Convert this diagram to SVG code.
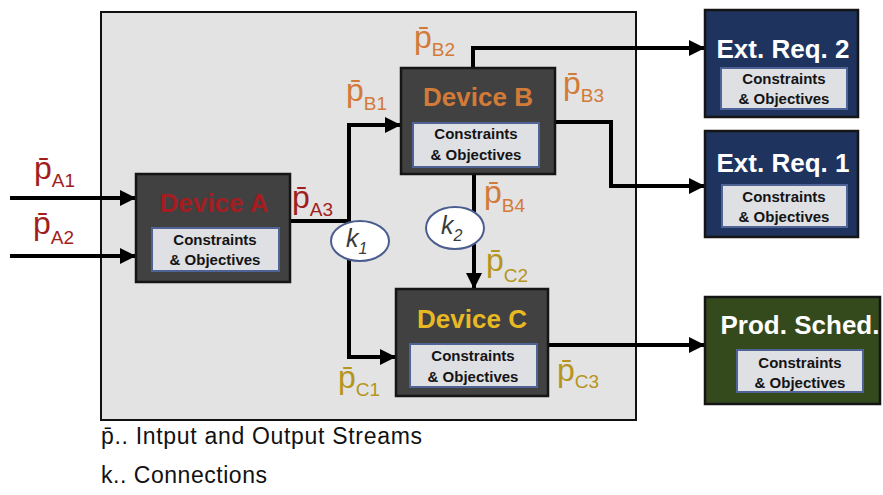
<svg xmlns="http://www.w3.org/2000/svg" width="883" height="495" viewBox="0 0 883 495">
<style>
.dev{fill:#414141;stroke:#151515;stroke-width:2.5}
.ext{fill:#1f335f;stroke:#151515;stroke-width:2.5}
.prod{fill:#354a1c;stroke:#151515;stroke-width:2.5}
.inner{fill:#dfe0e4;stroke:#4f6396;stroke-width:2}
.ttl{font-family:"Liberation Sans",Arial,sans-serif;font-weight:bold;font-size:26px;text-anchor:middle}
.co{font-family:"Liberation Sans",Arial,sans-serif;font-weight:bold;font-size:15px;fill:#141414;text-anchor:middle}
.lbl{font-family:"Liberation Sans","DejaVu Sans",sans-serif;font-size:32px}
.sub{font-size:19px}
.ra{fill:#a11d20}
.ob{fill:#d27a38}
.yc{fill:#b5951d}
.wire{fill:none;stroke:#000;stroke-width:4}
.kel{fill:#fff;stroke:#4a5d8f;stroke-width:2}
.kt{font-family:"Liberation Sans",Arial,sans-serif;font-style:italic;font-size:25px;fill:#3a3a3a}
.leg{font-family:"Liberation Sans",Arial,sans-serif;font-size:23px;fill:#111}
</style>
<defs>
<marker id="ah" markerUnits="userSpaceOnUse" markerWidth="16" markerHeight="16" viewBox="0 0 16 16" refX="15" refY="8" orient="auto">
<path d="M0,0 L16,8 L0,16 Z" fill="#000"/>
</marker>
</defs>

<rect id="frame" x="101" y="12" width="535" height="408" fill="#e3e3e3" stroke="#111" stroke-width="2"/>

<g id="connectors">
<path class="wire" d="M10,198 H135" marker-end="url(#ah)"/>
<path class="wire" d="M10,256 H135" marker-end="url(#ah)"/>
<path class="wire" d="M290,221 H349 V125 H400" marker-end="url(#ah)"/>
<path class="wire" d="M349,221 V357 H395" marker-end="url(#ah)"/>
<path class="wire" d="M473,68 V48 H704" marker-end="url(#ah)"/>
<path class="wire" d="M555,122 H611 V186 H704" marker-end="url(#ah)"/>
<path class="wire" d="M474,174 V288" marker-end="url(#ah)"/>
<path class="wire" d="M548,345 H704" marker-end="url(#ah)"/>
</g>

<g id="k1">
<ellipse class="kel" cx="360" cy="241" rx="29" ry="20"/>
<text class="kt" x="346" y="247">k<tspan font-size="16" dy="7">1</tspan></text>
</g>
<g id="k2">
<ellipse class="kel" cx="455" cy="228" rx="29" ry="21"/>
<text class="kt" x="441" y="234">k<tspan font-size="16" dy="7">2</tspan></text>
</g>

<g id="deviceA">
<rect class="dev" x="136" y="174" width="154" height="108"/>
<text class="ttl" x="214" y="212" fill="#a31d21">Device A</text>
<rect class="inner" x="152" y="228" width="127" height="43"/>
<text class="co" x="215" y="245">Constraints</text>
<text class="co" x="215" y="265">&amp; Objectives</text>
</g>

<g id="deviceB">
<rect class="dev" x="401" y="68" width="154" height="106"/>
<text class="ttl" x="478" y="106" fill="#d27a38">Device B</text>
<rect class="inner" x="413" y="123" width="126" height="44"/>
<text class="co" x="476" y="139">Constraints</text>
<text class="co" x="476" y="160">&amp; Objectives</text>
</g>

<g id="deviceC">
<rect class="dev" x="396" y="289" width="152" height="107"/>
<text class="ttl" x="472" y="328" fill="#e8b923">Device C</text>
<rect class="inner" x="410" y="344" width="127" height="43"/>
<text class="co" x="473" y="361">Constraints</text>
<text class="co" x="473" y="382">&amp; Objectives</text>
</g>

<g id="extReq2">
<rect class="ext" x="705" y="10" width="153" height="107"/>
<text class="ttl" x="783" y="58" fill="#fff" font-size="27">Ext. Req. 2</text>
<rect class="inner" x="721" y="68" width="126" height="41"/>
<text class="co" x="784" y="84">Constraints</text>
<text class="co" x="784" y="104">&amp; Objectives</text>
</g>

<g id="extReq1">
<rect class="ext" x="705" y="131" width="153" height="106"/>
<text class="ttl" x="783" y="172" fill="#fff" font-size="27">Ext. Req. 1</text>
<rect class="inner" x="722" y="185" width="125" height="42"/>
<text class="co" x="784" y="202">Constraints</text>
<text class="co" x="784" y="222">&amp; Objectives</text>
</g>

<g id="prodSched">
<rect class="prod" x="705" y="297" width="175" height="107"/>
<text class="ttl" x="800" y="334" fill="#fff" font-size="26">Prod. Sched.</text>
<rect class="inner" x="737" y="350" width="126" height="42"/>
<text class="co" x="800" y="368">Constraints</text>
<text class="co" x="800" y="388">&amp; Objectives</text>
</g>

<g id="labels">
<text class="lbl ra" x="34" y="179">p̄<tspan class="sub" dy="8">A1</tspan></text>
<text class="lbl ra" x="33" y="234">p̄<tspan class="sub" dy="10">A2</tspan></text>
<text class="lbl ra" x="292" y="208">p̄<tspan class="sub" dy="8">A3</tspan></text>
<text class="lbl ob" x="346" y="101">p̄<tspan class="sub" dy="9">B1</tspan></text>
<text class="lbl ob" x="414" y="48">p̄<tspan class="sub" dy="8">B2</tspan></text>
<text class="lbl ob" x="563" y="94">p̄<tspan class="sub" dy="8">B3</tspan></text>
<text class="lbl ob" x="484" y="203">p̄<tspan class="sub" dy="9">B4</tspan></text>
<text class="lbl yc" x="486" y="271">p̄<tspan class="sub" dy="11">C2</tspan></text>
<text class="lbl yc" x="338" y="388">p̄<tspan class="sub" dy="8">C1</tspan></text>
<text class="lbl yc" x="557" y="381">p̄<tspan class="sub" dy="7">C3</tspan></text>
</g>

<g id="legend">
<text class="leg" x="101" y="444" textLength="321">p̄.. Intput and Output Streams</text>
<text class="leg" x="101" y="483" textLength="166">k.. Connections</text>
</g>
</svg>
